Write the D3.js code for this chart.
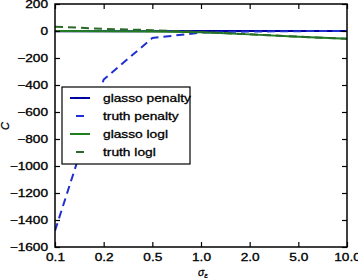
<!DOCTYPE html>
<html><head><meta charset="utf-8">
<script src="https://cdn.jsdelivr.net/npm/d3@7"></script>
<style>body{margin:0;background:#fff}svg{display:block;font-family:"Liberation Sans",Arial,sans-serif}
svg text{stroke:#000;stroke-width:0.3px}</style>
</head><body><svg id="c" width="358" height="278"></svg>
<script>
const xLabels = ["0.1","0.2","0.5","1.0","2.0","5.0","10.0"];
const glassoPenalty = [-2, -1, -1, 0, 0, 0, 0];
const truthPenalty = [-1480, -360, -52, -12, -4, -1, 0];
const glassoLogl = [0, -1, -4, -10, -25, -42, -58];
const truthLogl = [32, 16, 6, -8, -24, -42, -58];
const yTicks = [200, 0, -200, -400, -600, -800, -1000, -1200, -1400, -1600];
const seriesNames = ["glasso penalty","truth penalty","glasso logl","truth logl"];

const svg = d3.select("#c");
const L = 55, R = 347, T = 4, B = 247;
const x = d3.scalePoint().domain(xLabels).range([L, R]);
const y = d3.scaleLinear().domain([-1600, 200]).range([B, T]);

const series = [
  {name: seriesNames[0], vals: glassoPenalty, color: "#00009e", dash: null},
  {name: seriesNames[1], vals: truthPenalty, color: "#1f2fd0", dash: "8,5"},
  {name: seriesNames[2], vals: glassoLogl, color: "#1f7f1f", dash: null},
  {name: seriesNames[3], vals: truthLogl, color: "#2a6a2a", dash: "8,5"}
];

function stretch(sel, k) {
  sel.each(function() {
    const w = this.getComputedTextLength();
    if (w > 0) d3.select(this).attr("textLength", w * k).attr("lengthAdjust", "spacingAndGlyphs");
  });
}

svg.append("clipPath").attr("id","cl").append("rect")
  .attr("x", L).attr("y", T).attr("width", R-L).attr("height", B-T);

const line = d3.line().x((d,i)=>x(xLabels[i])).y(d=>y(d));
const g = svg.append("g").attr("clip-path","url(#cl)");
series.forEach(s => {
  g.append("path").attr("d", line(s.vals)).attr("fill","none")
    .attr("stroke", s.color).attr("stroke-width", 2)
    .attr("stroke-dasharray", s.dash);
});

// axes
const fs = 10.5;
const ax = svg.append("g").attr("transform",`translate(0,${B})`)
  .call(d3.axisBottom(x).tickSizeInner(-5).tickSizeOuter(0).tickPadding(7));
const ay = svg.append("g").attr("transform",`translate(${L},0)`)
  .call(d3.axisLeft(y).tickValues(yTicks).tickSizeInner(-5).tickSizeOuter(0).tickPadding(7)
    .tickFormat(d => d < 0 ? "\u2212" + Math.abs(d) : d));
const at = svg.append("g").attr("transform",`translate(0,${T})`)
  .call(d3.axisTop(x).tickSizeInner(-5).tickSizeOuter(0).tickFormat(""));
const ar = svg.append("g").attr("transform",`translate(${R},0)`)
  .call(d3.axisRight(y).tickValues(yTicks).tickSizeInner(-5).tickSizeOuter(0).tickFormat(""));
[ax, ay, at, ar].forEach(a => {
  a.select(".domain").remove();
  a.selectAll("line").attr("stroke","#000").attr("stroke-width",1.2);
  a.selectAll("text").attr("font-size", fs).attr("font-family","Liberation Sans, Arial, sans-serif").attr("fill","#000");
});
stretch(ax.selectAll("text"), 1.3);
stretch(ay.selectAll("text"), 1.3);
svg.append("rect").attr("x", L).attr("y", T).attr("width", R-L).attr("height", B-T)
  .attr("fill","none").attr("stroke","#000").attr("stroke-width",1.5);

// labels
svg.append("text").attr("x", 198).attr("y", 276)
  .attr("font-size", 10.5).attr("font-style","italic").html('σ<tspan font-size="8" dy="1.5">ε</tspan>');
svg.append("text").attr("transform","translate(9,126) rotate(-90)").attr("text-anchor","middle")
  .attr("font-size", 11).attr("font-style","italic").text("C");

// legend
const lg = svg.append("g");
lg.append("rect").attr("x", 62).attr("y", 87).attr("width", 128).attr("height", 77)
  .attr("fill","#fff").attr("stroke","#000").attr("stroke-width",1.2);
series.forEach((s, i) => {
  const yy = 98 + i*18;
  if (s.dash) {
    lg.append("line").attr("x1", 76).attr("x2", 84).attr("y1", yy).attr("y2", yy)
      .attr("stroke", s.color).attr("stroke-width", 2);
  } else {
    lg.append("line").attr("x1", 70).attr("x2", 90).attr("y1", yy).attr("y2", yy)
      .attr("stroke", s.color).attr("stroke-width", 2);
  }
  const t = lg.append("text").attr("x", 103).attr("y", yy + 4).attr("font-size", 11).text(s.name);
  stretch(t, 1.25);
});
</script></body></html>
